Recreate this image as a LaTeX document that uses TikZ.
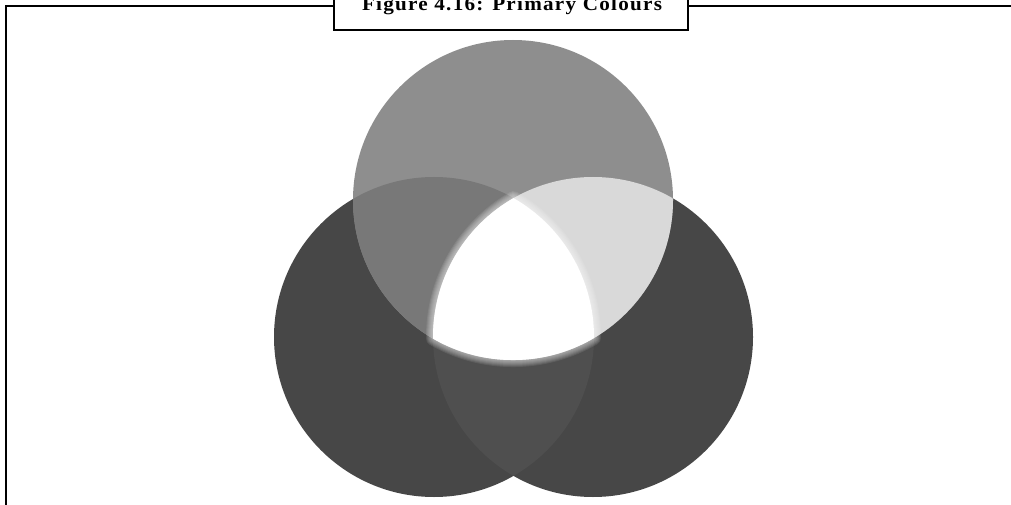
\documentclass[tikz,border=0pt]{standalone}
\usepackage{fontspec}
\usepackage{graphicx}
\newfontfamily\capfont{Liberation Serif}[LetterSpace=6]
\definecolor{topc}{HTML}{8E8E8E}
\definecolor{darkc}{HTML}{474747}
\definecolor{lrc}{HTML}{4F4F4F}
\definecolor{ltc}{HTML}{787878}
\definecolor{rtc}{HTML}{D9D9D9}
\begin{document}
\begin{tikzpicture}[x=1pt,y=1pt,
  frameline/.style={draw=black,line width=2.5pt},
  captext/.style={font=\capfont\bfseries\fontsize{19.5}{22}\selectfont,anchor=base,inner sep=0pt}]
\useasboundingbox (0,0) rectangle (1011,-505);
\clip (0,0) rectangle (1011,-505);
\fill[white] (0,0) rectangle (1011,-505);
% frame
\draw[frameline] (6,-515) -- (6,-6) -- (1020,-6);
\draw[frameline,fill=white] (334,10) rectangle (688,-30);
\node[captext] (cap) at (512,-10.5) {\resizebox{300pt}{\height}{Figure 4.16: Primary Colours}};
% circles
\fill[darkc] (434,-337) circle[radius=160];
\fill[darkc] (593,-337) circle[radius=160];
\fill[topc] (513,-200) circle[radius=160];
\begin{scope}
  \clip (434,-337) circle[radius=160];
  \fill[lrc] (593,-337) circle[radius=160];
\end{scope}
\begin{scope}
  \clip (434,-337) circle[radius=160];
  \fill[ltc] (513,-200) circle[radius=160];
\end{scope}
\begin{scope}
  \clip (593,-337) circle[radius=160];
  \fill[rtc] (513,-200) circle[radius=160];
\end{scope}
% soft glow around the white centre
\foreach \w in {14,12,10,8,6,4,2}{
  \draw[white,line width=\w pt,opacity=0.09,line join=round]
    (513.5,-198.1) arc[start angle=119.8,end angle=180.6,radius=160]
    arc[start angle=240,end angle=300.4,radius=160]
    arc[start angle=-0.4,end angle=60.2,radius=160] -- cycle;
}
\fill[white]
    (513.5,-198.1) arc[start angle=119.8,end angle=180.6,radius=160]
    arc[start angle=240,end angle=300.4,radius=160]
    arc[start angle=-0.4,end angle=60.2,radius=160] -- cycle;
\end{tikzpicture}
\end{document}
